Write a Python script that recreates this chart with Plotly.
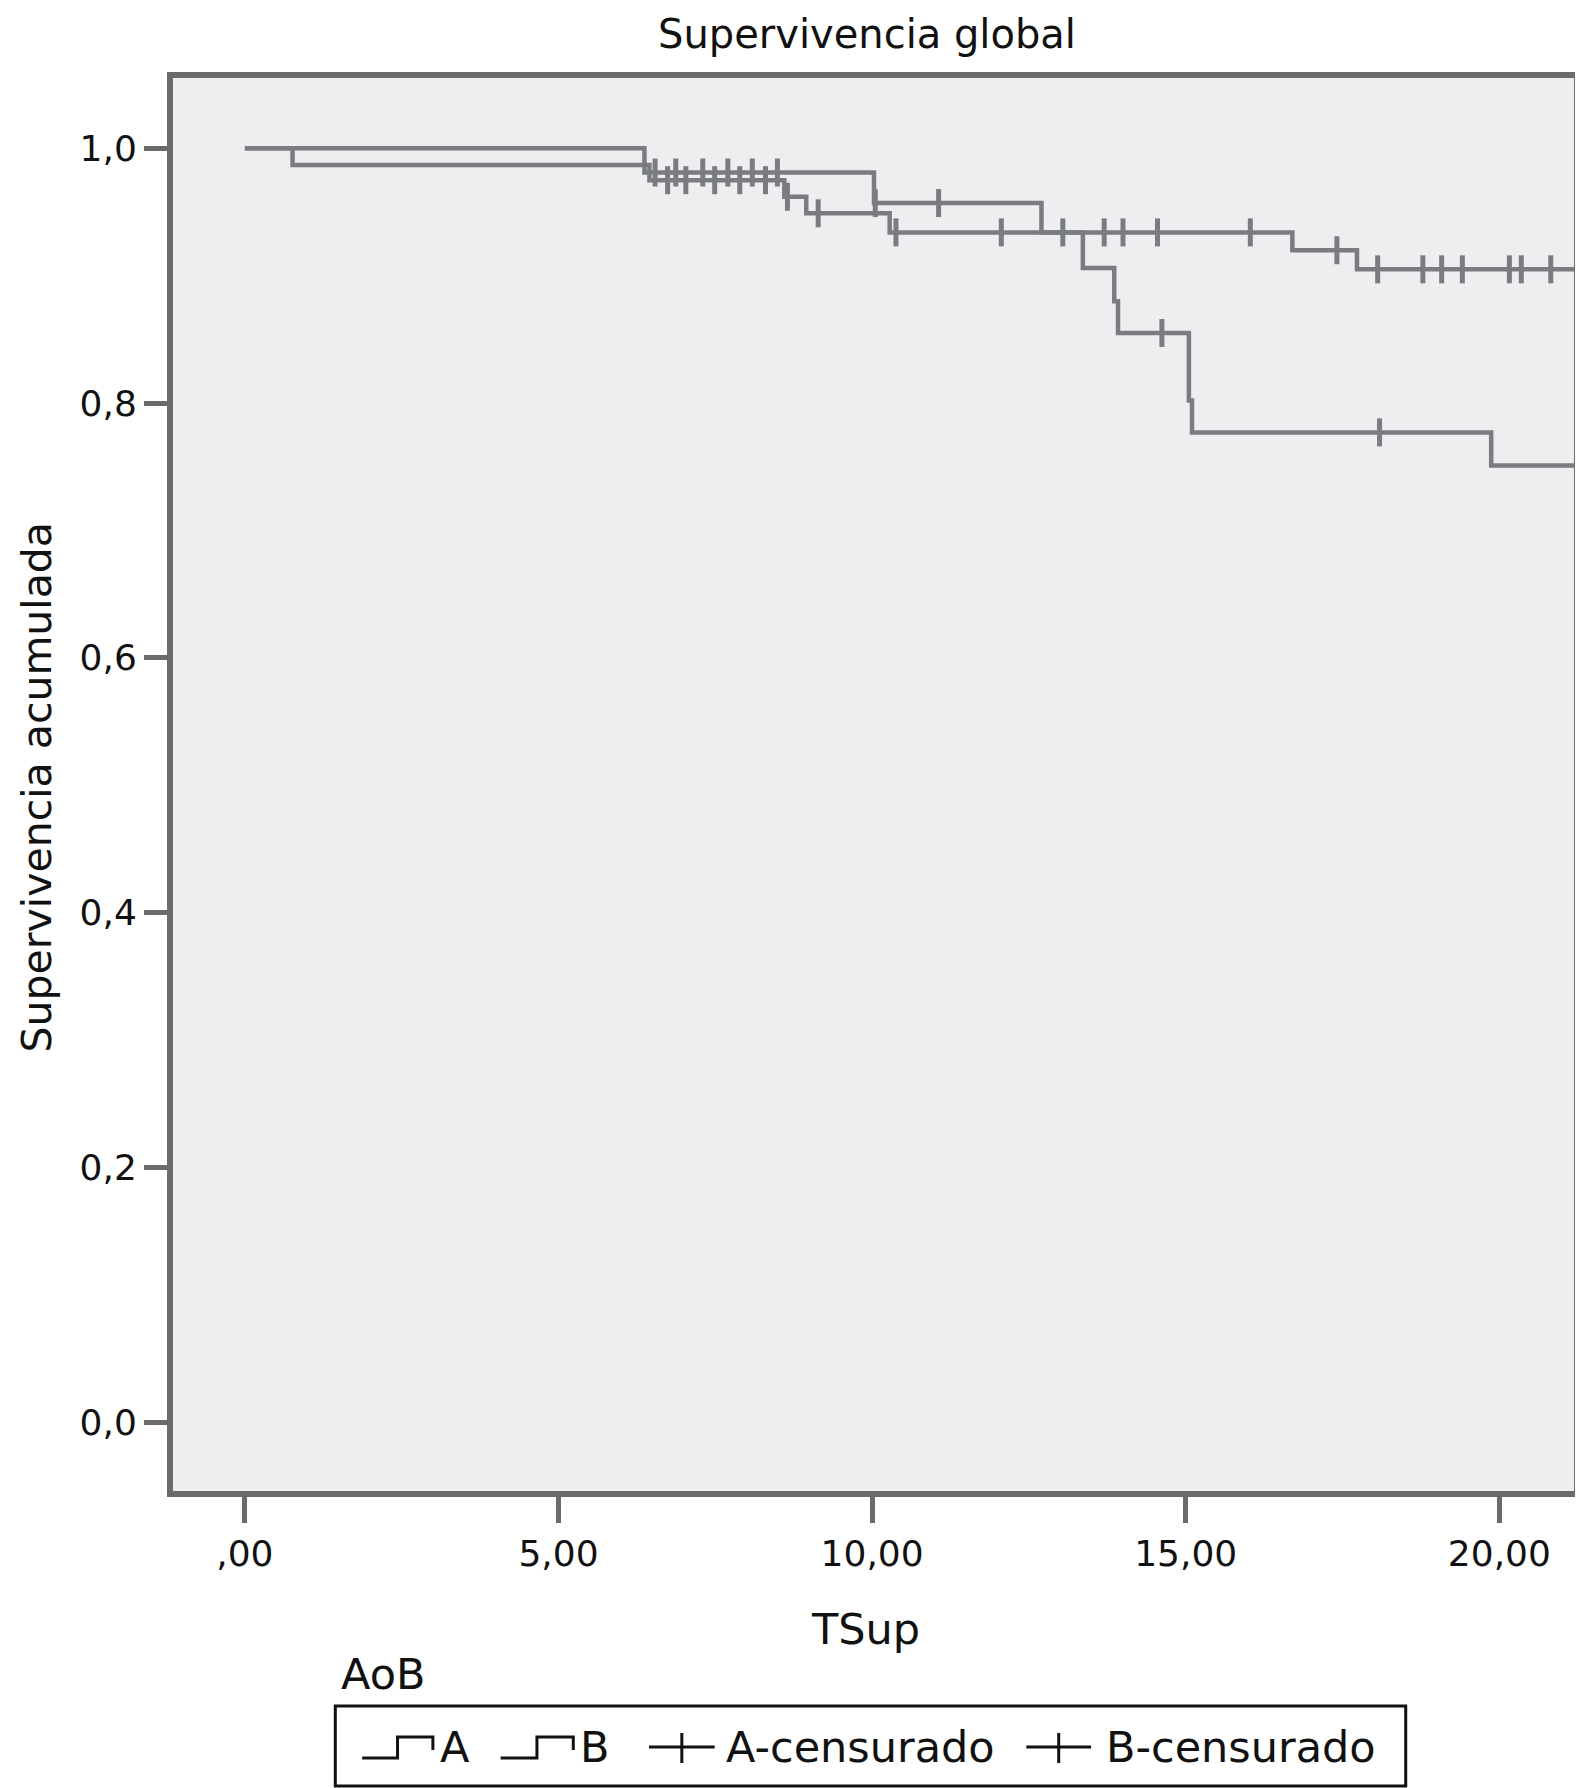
import numpy as np
import plotly.graph_objects as go

# ---------------- data ----------------
title_text = "Supervivencia global"
x_title = "TSup"
y_title = "Supervivencia acumulada"
legend_title = "AoB"
group_names = ["A", "B"]
censor_names = ["A-censurado", "B-censurado"]

x_tickvals = [0, 5, 10, 15, 20]
x_ticktext = [",00", "5,00", "10,00", "15,00", "20,00"]
y_tickvals = [0.0, 0.2, 0.4, 0.6, 0.8, 1.0]
y_ticktext = ["0,0", "0,2", "0,4", "0,6", "0,8", "1,0"]

# Kaplan-Meier step points (time, survival)
A_times = [0.0, 0.76, 6.45, 8.60, 8.95, 10.28, 16.70, 17.73, 21.4]
A_surv = [1.000, 0.987, 0.975, 0.962, 0.949, 0.934, 0.920, 0.905, 0.905]
B_times = [0.0, 6.37, 10.03, 12.70, 13.36, 13.86, 13.92, 15.05, 15.10, 19.87, 21.4]
B_surv = [1.000, 0.981, 0.957, 0.934, 0.906, 0.880, 0.855, 0.802, 0.777, 0.751, 0.751]

# censored times
A_cens = [6.74, 7.03, 7.49, 7.89, 8.30, 8.65, 9.14, 10.38, 12.06, 13.04, 13.70,
          14.00, 14.55, 16.03, 17.41, 18.06, 18.78, 19.08, 19.41, 20.16, 20.35, 20.82]
B_cens = [6.54, 6.87, 7.30, 7.70, 8.09, 8.49, 10.05, 11.06, 14.62, 18.09]

x_range = [-1.146, 21.19]
y_range = [-0.054, 1.0552]

# ---------------- style ----------------
LINE_COL = "#7a7c80"
FRAME_COL = "#6b6b6b"
BG = "#eceef0"
FONT = "DejaVu Sans"
TXT = "#111111"

OFF = 8  # page body margin of the browser
W, H = 1583 - OFF, 1788 - OFF
ML, MR, MT = 173 - OFF, 3, 78 - OFF
PW = W - ML - MR
PH = 1413
MB = H - MT - PH


def px(x):
    return (x - OFF - ML) / PW


def py(y):
    return (MT + PH - (y - OFF)) / PH


def step_value(times, surv, t):
    idx = np.searchsorted(np.array(times), t, side="right") - 1
    return [surv[i] for i in idx]


fig = go.Figure()
for times, surv in [(A_times, A_surv), (B_times, B_surv)]:
    fig.add_trace(go.Scatter(x=times, y=surv, mode="lines", line_shape="hv",
                             line=dict(color=LINE_COL, width=4.5),
                             showlegend=False, hoverinfo="skip"))
for times, surv, cens in [(A_times, A_surv, A_cens), (B_times, B_surv, B_cens)]:
    fig.add_trace(go.Scatter(x=cens, y=step_value(times, surv, cens), mode="markers",
                             marker=dict(symbol="line-ns", size=20,
                                         line=dict(color=LINE_COL, width=5)),
                             showlegend=False, hoverinfo="skip"))

shapes = []
annotations = []

# legend box
shapes.append(dict(type="rect", xref="paper", yref="paper",
                   x0=px(336), x1=px(1411), y0=py(1706), y1=py(1786),
                   line=dict(color="#111111", width=3), fillcolor="white", layer="above"))


def step_symbol(x0, x1, ylow, yhigh, yend):
    xm = (x0 + x1) / 2
    return (f"M {px(x0)} {py(ylow)} L {px(xm)} {py(ylow)} L {px(xm)} {py(yhigh)} "
            f"L {px(x1)} {py(yhigh)} L {px(x1)} {py(yend)}")


for (x0, x1) in [(363, 434), (502, 575)]:
    shapes.append(dict(type="path", xref="paper", yref="paper",
                       path=step_symbol(x0, x1, 1758, 1737, 1750),
                       line=dict(color="#111111", width=3), layer="above"))
for (x0, x1) in [(651, 717), (1030, 1095)]:
    shapes.append(dict(type="line", xref="paper", yref="paper",
                       x0=px(x0), x1=px(x1), y0=py(1747), y1=py(1747),
                       line=dict(color="#111111", width=3), layer="above"))
    xm = (x0 + x1) / 2
    shapes.append(dict(type="line", xref="paper", yref="paper",
                       x0=px(xm), x1=px(xm), y0=py(1733), y1=py(1763),
                       line=dict(color="#111111", width=3), layer="above"))

legend_texts = [(group_names[0], 439), (group_names[1], 580),
                (censor_names[0], 726), (censor_names[1], 1108)]
for txt, x in legend_texts:
    annotations.append(dict(text=txt, xref="paper", yref="paper", x=px(x), y=py(1747),
                            xanchor="left", yanchor="middle", showarrow=False,
                            font=dict(family=FONT, size=43, color=TXT)))

annotations.append(dict(text=legend_title, xref="paper", yref="paper", x=px(340), y=py(1674),
                        xanchor="left", yanchor="middle", showarrow=False,
                        font=dict(family=FONT, size=43, color=TXT)))
annotations.append(dict(text=x_title, xref="paper", yref="paper", x=px(868), y=py(1629),
                        xanchor="center", yanchor="middle", showarrow=False,
                        font=dict(family=FONT, size=43, color=TXT)))
annotations.append(dict(text=y_title, xref="paper", yref="paper", x=px(36), y=py(787),
                        xanchor="center", yanchor="middle", showarrow=False, textangle=-90,
                        font=dict(family=FONT, size=41, color=TXT)))

fig.update_layout(
    width=W, height=H,
    margin=dict(l=ML, r=MR, t=MT, b=MB),
    paper_bgcolor="white", plot_bgcolor=BG,
    title=dict(text=title_text, x=(867 - OFF) / W, xref="container", xanchor="center",
               y=1 - (34 - OFF) / H, yref="container", yanchor="middle",
               font=dict(family=FONT, size=40, color=TXT)),
    shapes=shapes, annotations=annotations,
    showlegend=False,
)
fig.update_xaxes(range=x_range, tickvals=x_tickvals, ticktext=x_ticktext,
                 showgrid=False, zeroline=False,
                 showline=True, mirror=True, linecolor=FRAME_COL, linewidth=6,
                 ticks="outside", ticklen=26, tickwidth=5, tickcolor=FRAME_COL,
                 tickfont=dict(family=FONT, size=36, color=TXT))
fig.update_yaxes(range=y_range, tickvals=y_tickvals, ticktext=y_ticktext,
                 showgrid=False, zeroline=False,
                 showline=True, mirror=True, linecolor=FRAME_COL, linewidth=6,
                 ticks="outside", ticklen=23, tickwidth=5, tickcolor=FRAME_COL,
                 tickfont=dict(family=FONT, size=36, color=TXT))

fig.write_html("out.html")
